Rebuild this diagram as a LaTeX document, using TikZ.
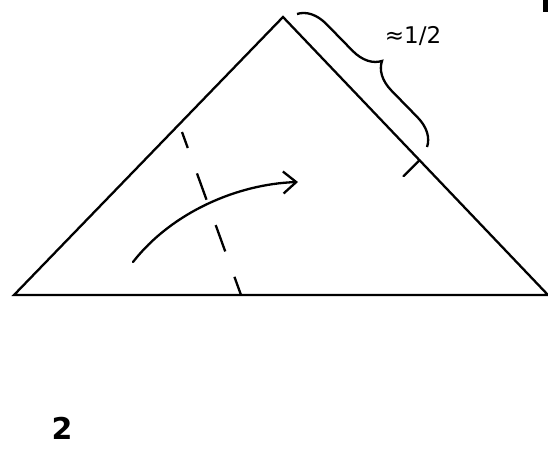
\documentclass[tikz,border=0pt]{standalone}
\usepackage{fontspec}
\setsansfont{DejaVu Sans}
\usetikzlibrary{arrows.meta, decorations.pathreplacing, calc}
\tikzset{
    edge/.style={line width=2.3pt, black, line cap=round},
    foldline/.style={line width=2.3pt, black, dash pattern=on 28pt off 27pt, dash phase=11pt},
    turnarrow/.style={-{Straight Barb[length=13pt, width=22pt, line width=2.3pt]}, line width=2.3pt, black, line cap=round},
    bracket/.style={decorate, decoration={brace, amplitude=28pt}, line width=2.3pt, black},
    label/.style={font=\sffamily\fontsize{23}{27}\selectfont, inner sep=0pt},
    stepnum/.style={font=\sffamily\bfseries\fontsize{30}{36}\selectfont, inner sep=0pt}
}

\begin{document}
\begin{tikzpicture}[x=1pt, y=-1pt]
        \useasboundingbox (0,0) rectangle (548,448);
        % triangle corners
        \coordinate (apex) at (283,17);
        \coordinate (left) at (14,295);
        \coordinate (right) at (548,295);
        \draw [edge] (left) -- (apex) -- (right) -- cycle;
        % half-way tick on the right side
        \coordinate (half) at ($(apex)!0.515!(right)$);
        \coordinate (halfin) at ($(half)+(-16,16)$);
        \draw [edge] (half) -- (halfin);
        % brace and its label
        \coordinate (bracetop) at (297,14);
        \coordinate (bracebot) at (427,147);
        \draw [bracket] (bracetop) -- (bracebot);
        \node [label] (approx) at (413,36) {≈1/2};
        % fold line
        \coordinate (foldtop) at (182,132);
        \coordinate (foldbot) at (241,295);
        \draw [foldline] (foldtop) -- (foldbot);
        % turning arrow
        \coordinate (arrstart) at (133,262);
        \coordinate (arrend) at (298,182);
        \draw [turnarrow] (arrstart) .. controls (172,212) and (238,184) .. (arrend);
        % step number
        \node [stepnum] (step2) at (62,428) {2};
        % cut-off mark in the corner
        \fill (543,0) rectangle (548,12);
    \end{tikzpicture}
\end{document}
